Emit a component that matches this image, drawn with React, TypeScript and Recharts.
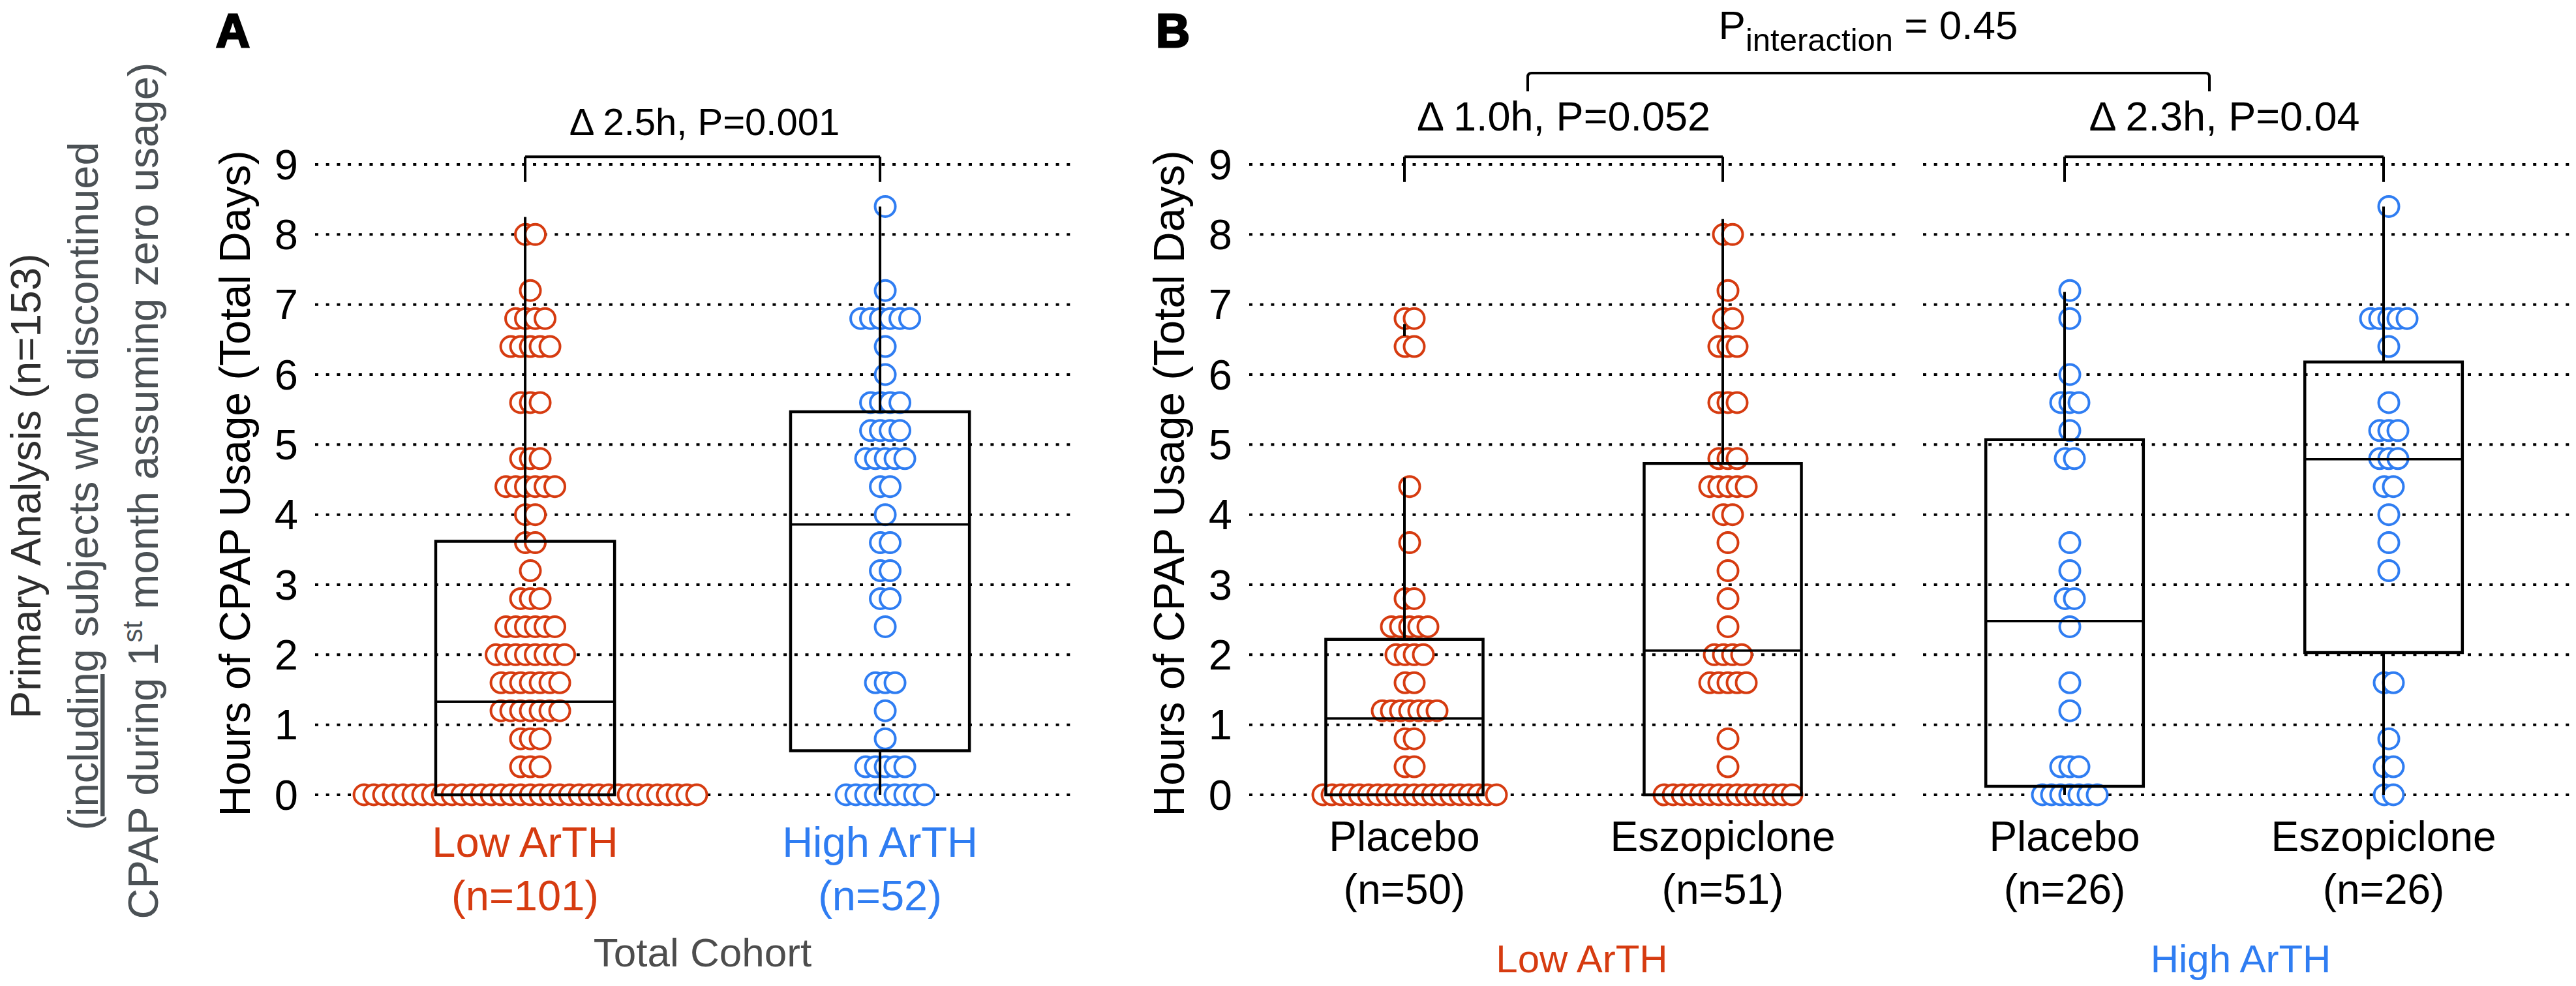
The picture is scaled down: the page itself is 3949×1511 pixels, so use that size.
import React from "react";
import {
  ScatterChart,
  Scatter,
  XAxis,
  YAxis,
  CartesianGrid,
  ReferenceLine,
  ReferenceArea,
} from "recharts";

const RED = "#D63B10";
const BLUE = "#2F7DF2";
const FONT = '"Liberation Sans", Arial, Helvetica, sans-serif';

// CPAP hours, binned rows of the dot plot: [hours, number of subjects]
const lowPlacebo = [
  [0, 20], [0.4, 2], [0.8, 2], [1.2, 7], [1.6, 2], [2.0, 4], [2.4, 5],
  [2.8, 2], [3.6, 1], [4.4, 1], [6.4, 2], [6.8, 2],
];
const lowEszo = [
  [0, 15], [0.4, 1], [0.8, 1], [1.6, 5], [2.0, 4], [2.4, 1], [2.8, 1],
  [3.2, 1], [3.6, 1], [4.0, 2], [4.4, 5], [4.8, 3], [5.6, 3], [6.4, 3],
  [6.8, 2], [7.2, 1], [8.0, 2],
];
const highPlacebo = [
  [0, 7], [0.4, 3], [1.2, 1], [1.6, 1], [2.4, 1], [2.8, 2], [3.2, 1],
  [3.6, 1], [4.8, 2], [5.2, 1], [5.6, 3], [6.0, 1], [6.8, 1], [7.2, 1],
];
const highEszo = [
  [0, 2], [0.4, 2], [0.8, 1], [1.6, 2], [3.2, 1], [3.6, 1], [4.0, 1],
  [4.4, 2], [4.8, 3], [5.2, 3], [5.6, 1], [6.4, 1], [6.8, 5], [8.4, 1],
];

// box stats: [whisker low, q1, median, q3, whisker high]
const lowBox = [0, 0, 1.33, 3.62, 8.25];
const highBox = [0, 0.63, 3.86, 5.47, 8.4];
const lowPlaceboBox = [0, 0, 1.09, 2.22, 4.53];
const lowEszoBox = [0, 0, 2.06, 4.73, 8.22];
const highPlaceboBox = [0, 0.12, 2.48, 5.07, 7.18];
const highEszoBox = [0, 2.03, 4.79, 6.18, 8.4];
const lowPlaceboStub = [6.55, 6.72];

const yTicks = [0, 1, 2, 3, 4, 5, 6, 7, 8, 9];
const cohortLabels = ["Low ArTH", "High ArTH"];
const cohortN = ["(n=101)", "(n=52)"];
const armLabels = ["Placebo", "Eszopiclone"];
const lowArmN = ["(n=50)", "(n=51)"];
const highArmN = ["(n=26)", "(n=26)"];

const mergeBins = (...groups: number[][][]) => {
  const m = new Map<number, number>();
  groups.flat().forEach(([v, n]) => m.set(v, (m.get(v) || 0) + n));
  return [...m.entries()].sort((a, b) => a[0] - b[0]);
};

// beeswarm: spread each row sideways, centred a little right of the whisker
const swarm = (bins: number[][], pos: number, step: number) =>
  bins.flatMap(([v, n]) =>
    Array.from({ length: n }, (_, j) => ({
      x: pos,
      y: v,
      dx: (j - (n - 1) / 2) * step + 8,
    }))
  );

const dot = (color: string) => (p: any) =>
  (
    <circle
      cx={p.cx + p.payload.dx}
      cy={p.cy}
      r={15.5}
      fill="#fff"
      stroke={color}
      strokeWidth={4}
    />
  );

const boxParts = (key: string, pos: number, s: number[], hw: number) => {
  const [wl, q1, med, q3, wh] = s;
  const out: any[] = [
    <ReferenceArea
      key={key + "b"}
      x1={pos - hw}
      x2={pos + hw}
      y1={q1}
      y2={q3}
      fill="none"
      fillOpacity={0}
      stroke="#000"
      strokeWidth={4.5}
      ifOverflow="visible"
      zIndex={700}
    />,
    <ReferenceLine
      key={key + "m"}
      segment={[{ x: pos - hw, y: med }, { x: pos + hw, y: med }]}
      stroke="#000"
      strokeWidth={3.5}
      ifOverflow="visible"
      zIndex={700}
    />,
  ];
  if (wh > q3)
    out.push(
      <ReferenceLine
        key={key + "u"}
        segment={[{ x: pos, y: q3 }, { x: pos, y: wh }]}
        stroke="#000"
        strokeWidth={4}
        ifOverflow="visible"
        zIndex={700}
      />
    );
  if (wl < q1)
    out.push(
      <ReferenceLine
        key={key + "l"}
        segment={[{ x: pos, y: wl }, { x: pos, y: q1 }]}
        stroke="#000"
        strokeWidth={4}
        ifOverflow="visible"
        zIndex={700}
      />
    );
  return out;
};

const BR_TOP = 9.11;
const BR_LEG = 8.75;
const bracket = (key: string, x1: number, x2: number) =>
  [
    [{ x: x1, y: BR_LEG }, { x: x1, y: BR_TOP }],
    [{ x: x1, y: BR_TOP }, { x: x2, y: BR_TOP }],
    [{ x: x2, y: BR_TOP }, { x: x2, y: BR_LEG }],
  ].map((seg, i) => (
    <ReferenceLine
      key={key + i}
      segment={seg}
      stroke="#000"
      strokeWidth={4}
      ifOverflow="visible"
    />
  ));

const yTick = (p: any) => (
  <text
    x={p.x}
    y={p.y}
    dy="0.35em"
    textAnchor="end"
    fontSize={65}
    fontFamily={FONT}
    fill="#000"
  >
    {p.payload.value}
  </text>
);

const catTick =
  (names: string[], ns: string[], colors: string[], dy1: number, dy2: number, size: number) =>
  (p: any) => {
    const i = Math.round(p.payload.value) - 1;
    return (
      <g>
        <text x={p.x} y={p.y + dy1} textAnchor="middle" fontSize={size} fontFamily={FONT} fill={colors[i]}>
          {names[i]}
        </text>
        <text x={p.x} y={p.y + dy2} textAnchor="middle" fontSize={size} fontFamily={FONT} fill={colors[i]}>
          {ns[i]}
        </text>
      </g>
    );
  };

const grid = (
  <CartesianGrid
    vertical={false}
    stroke="#000"
    strokeWidth={4}
    strokeDasharray="5 11.7"
  />
);

const yAxis = (hide: boolean) => (
  <YAxis
    dataKey="y"
    type="number"
    domain={[0, 9]}
    ticks={yTicks}
    interval={0}
    width={100}
    hide={hide}
    axisLine={false}
    tickLine={false}
    tickSize={0}
    tickMargin={26}
    tick={yTick}
  />
);

const totalLow = mergeBins(lowPlacebo, lowEszo);
const totalHigh = mergeBins(highPlacebo, highEszo);

export default function App() {
  return (
    <div
      style={{
        position: "absolute",
        left: 0,
        top: 0,
        width: 3949,
        height: 1511,
        background: "#fff",
        fontFamily: FONT,
      }}
    >
      {/* Panel A: total cohort */}
      <div style={{ position: "absolute", left: 0, top: 0 }}>
        <ScatterChart
          width={1700}
          height={1511}
          margin={{ top: 252, right: 55, bottom: 263, left: 383 }}
        >
          {grid}
          <XAxis
            dataKey="x"
            type="number"
            domain={[0.408, 2.544]}
            ticks={[1, 2]}
            interval={0}
            height={30}
            axisLine={false}
            tickLine={false}
            tickSize={0}
            tickMargin={0}
            tick={catTick(cohortLabels, cohortN, [RED, BLUE], 95, 177, 65)}
          />
          {yAxis(false)}
          <Scatter data={swarm(totalLow, 1, 15)} shape={dot(RED)} isAnimationActive={false} />
          <Scatter data={swarm(totalHigh, 2, 15)} shape={dot(BLUE)} isAnimationActive={false} />
          {boxParts("al", 1, lowBox, 0.252)}
          {boxParts("ah", 2, highBox, 0.252)}
          {bracket("abr", 1, 2)}
        </ScatterChart>
      </div>

      {/* Panel B: low ArTH arms */}
      <div style={{ position: "absolute", left: 1700, top: 0 }}>
        <ScatterChart
          width={1230}
          height={1511}
          margin={{ top: 252, right: 13, bottom: 263, left: 115 }}
        >
          {grid}
          <XAxis
            dataKey="x"
            type="number"
            domain={[0.5123, 2.5656]}
            ticks={[1, 2]}
            interval={0}
            height={30}
            axisLine={false}
            tickLine={false}
            tickSize={0}
            tickMargin={0}
            tick={catTick(armLabels, lowArmN, ["#000", "#000"], 86, 167, 64)}
          />
          {yAxis(false)}
          <Scatter data={swarm(lowPlacebo, 1, 14)} shape={dot(RED)} isAnimationActive={false} />
          <Scatter data={swarm(lowEszo, 2, 14)} shape={dot(RED)} isAnimationActive={false} />
          {boxParts("lp", 1, lowPlaceboBox, 0.247)}
          {boxParts("le", 2, lowEszoBox, 0.247)}
          <ReferenceLine
            segment={[{ x: 1, y: lowPlaceboStub[0] }, { x: 1, y: lowPlaceboStub[1] }]}
            stroke="#000"
            strokeWidth={4}
            ifOverflow="visible"
            zIndex={700}
          />
          {bracket("lbr", 1, 2)}
        </ScatterChart>
      </div>

      {/* Panel B: high ArTH arms */}
      <div style={{ position: "absolute", left: 2930, top: 0 }}>
        <ScatterChart
          width={1019}
          height={1511}
          margin={{ top: 252, right: 3, bottom: 263, left: 18 }}
        >
          {grid}
          <XAxis
            dataKey="x"
            type="number"
            domain={[0.5562, 2.5971]}
            ticks={[1, 2]}
            interval={0}
            height={30}
            axisLine={false}
            tickLine={false}
            tickSize={0}
            tickMargin={0}
            tick={catTick(armLabels, highArmN, ["#000", "#000"], 86, 167, 64)}
          />
          {yAxis(true)}
          <Scatter data={swarm(highPlacebo, 1, 14)} shape={dot(BLUE)} isAnimationActive={false} />
          <Scatter data={swarm(highEszo, 2, 14)} shape={dot(BLUE)} isAnimationActive={false} />
          {boxParts("hp", 1, highPlaceboBox, 0.247)}
          {boxParts("he", 2, highEszoBox, 0.247)}
          {bracket("hbr", 1, 2)}
        </ScatterChart>
      </div>

      {/* titles and annotations */}
      <svg
        width={3949}
        height={1511}
        style={{ position: "absolute", left: 0, top: 0, pointerEvents: "none" }}
        fontFamily={FONT}
      >
        <text transform="translate(62,745) rotate(-90)" textAnchor="middle" fontSize={64} fill="#2e2e2e">
          Primary Analysis (n=153)
        </text>
        <text transform="translate(150,745) rotate(-90)" textAnchor="middle" fontSize={65} fill="#4b5155">
          (<tspan style={{ textDecoration: "underline" }}>including</tspan> subjects who discontinued
        </text>
        <text transform="translate(242,752) rotate(-90)" textAnchor="middle" fontSize={65} fill="#4b5155">
          CPAP during 1<tspan dy={-24} fontSize={42}>st</tspan>
          <tspan dy={24}> month assuming zero usage)</tspan>
        </text>

        <text x={331} y={72} fontSize={72} fontWeight="bold" fill="#000" stroke="#000" strokeWidth={3}>A</text>
        <text x={1772} y={72} fontSize={72} fontWeight="bold" fill="#000" stroke="#000" strokeWidth={3}>B</text>

        <text transform="translate(383,741) rotate(-90)" textAnchor="middle" fontSize={66} fill="#000">
          Hours of CPAP Usage (Total Days)
        </text>
        <text transform="translate(1815,741) rotate(-90)" textAnchor="middle" fontSize={66} fill="#000">
          Hours of CPAP Usage (Total Days)
        </text>

        <text x={1080} y={207} textAnchor="middle" fontSize={58} fill="#000">Δ 2.5h, P=0.001</text>
        <text x={2397} y={200} textAnchor="middle" fontSize={63} fill="#000">Δ 1.0h, P=0.052</text>
        <text x={3410} y={200} textAnchor="middle" fontSize={63} fill="#000">Δ 2.3h, P=0.04</text>

        <text x={2864} y={60} textAnchor="middle" fontSize={62} fill="#000">
          P<tspan dy={18} fontSize={49}>interaction</tspan>
          <tspan dy={-18}> = 0.45</tspan>
        </text>
        <path
          d="M2342,140 L2342,118 Q2342,112 2348,112 L3381,112 Q3387,112 3387,118 L3387,140"
          fill="none"
          stroke="#000"
          strokeWidth={4}
        />

        <text x={1077} y={1481} textAnchor="middle" fontSize={62} fill="#4d4d4d">Total Cohort</text>
        <text x={2425} y={1490} textAnchor="middle" fontSize={60} fill={RED}>Low ArTH</text>
        <text x={3435} y={1490} textAnchor="middle" fontSize={60} fill={BLUE}>High ArTH</text>
      </svg>
    </div>
  );
}
